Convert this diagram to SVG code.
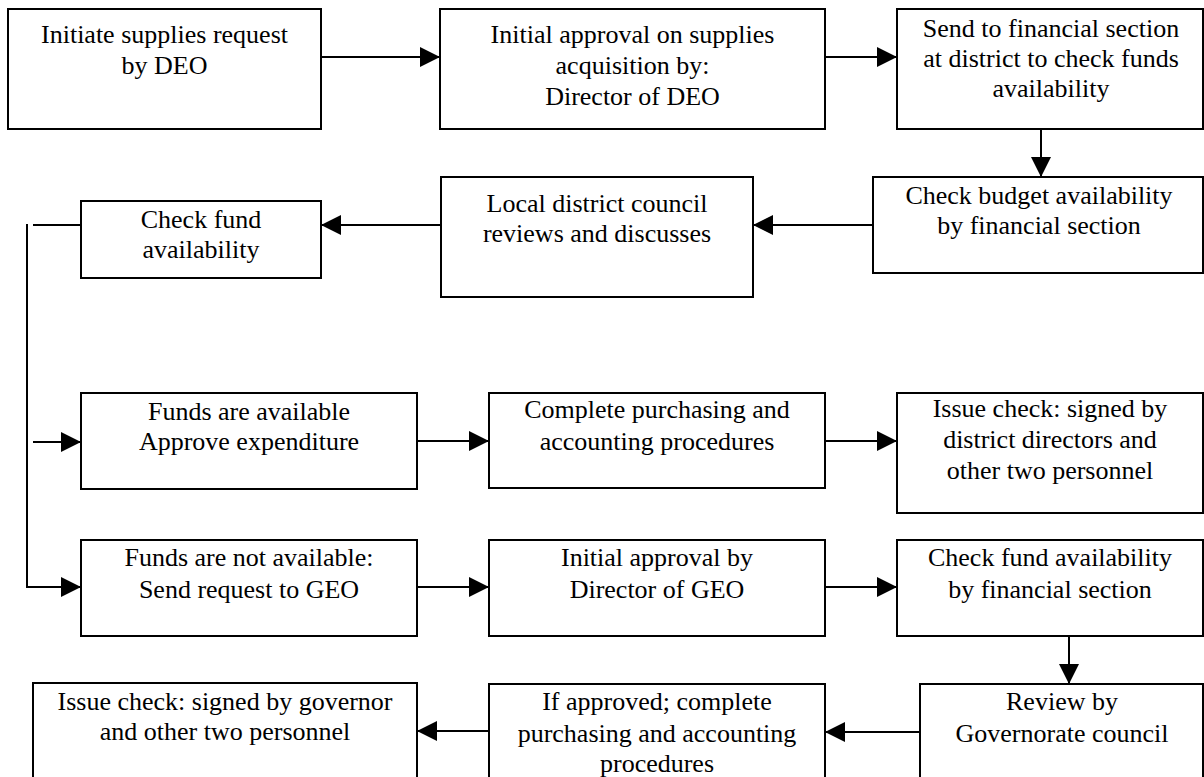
<svg xmlns="http://www.w3.org/2000/svg" width="1204" height="777" viewBox="0 0 1204 777">
  <style>
    .box { fill: #ffffff; stroke: #000000; stroke-width: 2; }
    .wire { fill: none; stroke: #000000; stroke-width: 2; }
    .arr { marker-end: url(#head); }
    .lbl { font-family: "Liberation Serif", "Times New Roman", serif !important; font-size: 26px; text-anchor: middle; fill: #000000; }
  </style>
  <defs>
    <marker id="head" markerUnits="userSpaceOnUse" markerWidth="20" markerHeight="20" refX="20" refY="10" orient="auto">
      <path d="M0,0 L20,10 L0,20 Z" fill="#000000"/>
    </marker>
  </defs>
  <rect width="1204" height="777" fill="#ffffff"/>

  <!-- connectors -->
  <g id="connectors">
    <path class="wire arr" d="M321,57 H440"/>
    <path class="wire arr" d="M825,57 H897"/>
    <path class="wire arr" d="M1041,129 V177"/>
    <path class="wire arr" d="M873,225 H753"/>
    <path class="wire arr" d="M441,225 H321"/>
    <path class="wire" d="M81,225 H33"/>
    <path class="wire" d="M27,224 V587"/>
    <path class="wire arr" d="M26,587 H81"/>
    <path class="wire arr" d="M33,442 H81"/>
    <path class="wire arr" d="M417,441 H489"/>
    <path class="wire arr" d="M825,441 H897"/>
    <path class="wire arr" d="M417,587 H489"/>
    <path class="wire arr" d="M825,587 H897"/>
    <path class="wire arr" d="M1069,636 V684"/>
    <path class="wire arr" d="M920,732 H825"/>
    <path class="wire arr" d="M489,731 H417"/>
  </g>

  <!-- process steps -->
  <g id="initiate-request">
    <rect class="box" x="8" y="9" width="313" height="120"/>
    <text class="lbl" style="font-family: 'Liberation Serif', serif !important" x="164.5" y="43">Initiate supplies request</text>
    <text class="lbl" style="font-family: 'Liberation Serif', serif !important" x="164.5" y="74">by DEO</text>
  </g>
  <g id="initial-approval-deo">
    <rect class="box" x="440" y="9" width="385" height="120"/>
    <text class="lbl" style="font-family: 'Liberation Serif', serif !important" x="632.5" y="43">Initial approval on supplies</text>
    <text class="lbl" style="font-family: 'Liberation Serif', serif !important" x="632.5" y="74">acquisition by:</text>
    <text class="lbl" style="font-family: 'Liberation Serif', serif !important" x="632.5" y="105">Director of DEO</text>
  </g>
  <g id="send-financial">
    <rect class="box" x="897" y="9" width="306" height="120"/>
    <text class="lbl" style="font-family: 'Liberation Serif', serif !important" x="1051" y="37">Send to financial section</text>
    <text class="lbl" style="font-family: 'Liberation Serif', serif !important" x="1051" y="67">at district to check funds</text>
    <text class="lbl" style="font-family: 'Liberation Serif', serif !important" x="1051" y="97">availability</text>
  </g>
  <g id="check-budget">
    <rect class="box" x="873" y="177" width="330" height="96"/>
    <text class="lbl" style="font-family: 'Liberation Serif', serif !important" x="1039" y="204">Check budget availability</text>
    <text class="lbl" style="font-family: 'Liberation Serif', serif !important" x="1039" y="234">by financial section</text>
  </g>
  <g id="local-council">
    <rect class="box" x="441" y="177" width="312" height="120"/>
    <text class="lbl" style="font-family: 'Liberation Serif', serif !important" x="597" y="212">Local district council</text>
    <text class="lbl" style="font-family: 'Liberation Serif', serif !important" x="597" y="242">reviews and discusses</text>
  </g>
  <g id="check-fund">
    <rect class="box" x="81" y="201" width="240" height="77"/>
    <text class="lbl" style="font-family: 'Liberation Serif', serif !important" x="201" y="228">Check fund</text>
    <text class="lbl" style="font-family: 'Liberation Serif', serif !important" x="201" y="258">availability</text>
  </g>
  <g id="funds-available">
    <rect class="box" x="81" y="393" width="336" height="96"/>
    <text class="lbl" style="font-family: 'Liberation Serif', serif !important" x="249" y="420">Funds are available</text>
    <text class="lbl" style="font-family: 'Liberation Serif', serif !important" x="249" y="450">Approve expenditure</text>
  </g>
  <g id="complete-purchasing">
    <rect class="box" x="489" y="393" width="336" height="95"/>
    <text class="lbl" style="font-family: 'Liberation Serif', serif !important" x="657" y="418">Complete purchasing and</text>
    <text class="lbl" style="font-family: 'Liberation Serif', serif !important" x="657" y="450">accounting procedures</text>
  </g>
  <g id="issue-check-district">
    <rect class="box" x="897" y="393" width="306" height="120"/>
    <text class="lbl" style="font-family: 'Liberation Serif', serif !important" x="1050" y="417">Issue check: signed by</text>
    <text class="lbl" style="font-family: 'Liberation Serif', serif !important" x="1050" y="448">district directors and</text>
    <text class="lbl" style="font-family: 'Liberation Serif', serif !important" x="1050" y="479">other two personnel</text>
  </g>
  <g id="funds-not-available">
    <rect class="box" x="81" y="540" width="336" height="96"/>
    <text class="lbl" style="font-family: 'Liberation Serif', serif !important" x="249" y="566">Funds are not available:</text>
    <text class="lbl" style="font-family: 'Liberation Serif', serif !important" x="249" y="598">Send request to GEO</text>
  </g>
  <g id="initial-approval-geo">
    <rect class="box" x="489" y="540" width="336" height="96"/>
    <text class="lbl" style="font-family: 'Liberation Serif', serif !important" x="657" y="566">Initial approval by</text>
    <text class="lbl" style="font-family: 'Liberation Serif', serif !important" x="657" y="598">Director of GEO</text>
  </g>
  <g id="check-fund-financial">
    <rect class="box" x="897" y="540" width="306" height="96"/>
    <text class="lbl" style="font-family: 'Liberation Serif', serif !important" x="1050" y="566">Check fund availability</text>
    <text class="lbl" style="font-family: 'Liberation Serif', serif !important" x="1050" y="598">by financial section</text>
  </g>
  <g id="governorate-review">
    <rect class="box" x="920" y="684" width="283" height="110"/>
    <text class="lbl" style="font-family: 'Liberation Serif', serif !important" x="1062" y="710">Review by</text>
    <text class="lbl" style="font-family: 'Liberation Serif', serif !important" x="1062" y="742">Governorate council</text>
  </g>
  <g id="if-approved">
    <rect class="box" x="489" y="684" width="336" height="110"/>
    <text class="lbl" style="font-family: 'Liberation Serif', serif !important" x="657" y="710">If approved; complete</text>
    <text class="lbl" style="font-family: 'Liberation Serif', serif !important" x="657" y="742">purchasing and accounting</text>
    <text class="lbl" style="font-family: 'Liberation Serif', serif !important" x="657" y="772">procedures</text>
  </g>
  <g id="issue-check-governor">
    <rect class="box" x="33" y="683" width="384" height="110"/>
    <text class="lbl" style="font-family: 'Liberation Serif', serif !important" x="225" y="710">Issue check: signed by governor</text>
    <text class="lbl" style="font-family: 'Liberation Serif', serif !important" x="225" y="740">and other two personnel</text>
  </g>
</svg>
